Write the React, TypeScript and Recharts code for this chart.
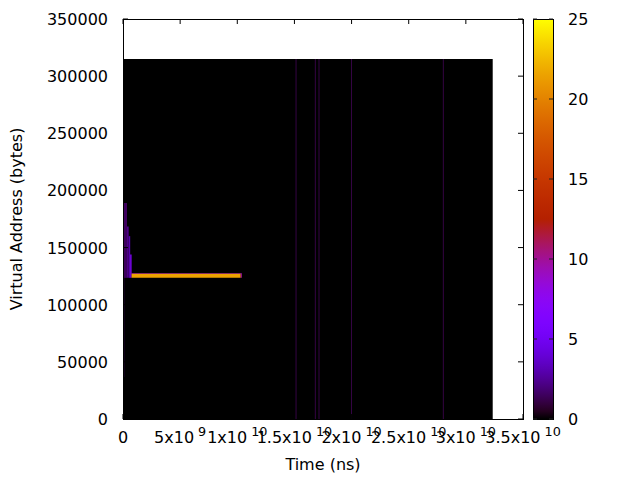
import React from 'react';
import { ComposedChart, XAxis, YAxis, ReferenceArea, Line } from 'recharts';

// axis ticks
const timeTicks = [0, 5e9, 1e10, 1.5e10, 2e10, 2.5e10, 3e10, 3.5e10];
const timeMantissa = ['0', '5', '1', '1.5', '2', '2.5', '3', '3.5'];
const timeExponent = ['', '9', '10', '10', '10', '10', '10', '10'];
const addressTicks = [0, 50000, 100000, 150000, 200000, 250000, 300000, 350000];
const countTicks = [0, 5, 10, 15, 20, 25];

// extent of the sampled map (black = 0 accesses)
const mapTimeEnd = 3.235e10;
const mapAddressTop = 315000;

// non-zero cells of the access map
const cellTimeStart = [5e7, 8e7, 3.5e8, 5.0e8, 6.3e8, 7.5e8, 7.5e8, 1.03e10, 1.511e10, 1.679e10, 1.712e10, 1.997e10, 2.799e10];
const cellTimeEnd = [1.1e8, 3.5e8, 5.0e8, 6.3e8, 7.5e8, 1.03e10, 1.04e10, 1.04e10, 1.517e10, 1.685e10, 1.718e10, 2.003e10, 2.805e10];
const cellAddressLow = [36750, 123500, 123500, 123500, 123500, 123500, 127300, 123500, 0, 0, 0, 0, 0];
const cellAddressHigh = [123500, 189000, 168500, 160000, 144000, 127300, 127800, 127300, 315000, 315000, 315000, 315000, 315000];
const cellCount = [1.5, 1.5, 2.2, 3, 6.5, 21.5, 9, 10, 9, 9, 9, 9, 9];

const FONT = 'DejaVu Sans, sans-serif';
const MARGIN = { top: 19, right: 117, bottom: 0, left: 0 };
const PLOT_TOP = 19;
const PLOT_RIGHT = 523;
const TICK_LEN = 5;

// gnuplot default palette (rgbformulae 7,5,15)
const palette = (v: number) => {
  const t = Math.min(Math.max(v / 25, 0), 1);
  const r = Math.sqrt(t);
  const g = t * t * t;
  const b = Math.max(0, Math.sin(2 * Math.PI * t));
  const h = (c: number) => Math.round(c * 255).toString(16).padStart(2, '0');
  return `#${h(r)}${h(g)}${h(b)}`;
};

const gradStops = Array.from({ length: 51 }, (_, i) => i / 50);

const frame = [
  { t: 0, a: 0 },
  { t: 3.5e10, a: 350000 },
];
const barFrame = [
  { x: 0, c: 0 },
  { x: 1, c: 25 },
];

const TimeTick = (props: any) => {
  const { x, y, payload } = props;
  const i = timeTicks.indexOf(payload.value);
  const m = timeMantissa[i];
  const e = timeExponent[i];
  return (
    <g>
      <line x1={x} x2={x} y1={y} y2={y - TICK_LEN} stroke="#000" />
      <line x1={x} x2={x} y1={PLOT_TOP} y2={PLOT_TOP + TICK_LEN} stroke="#000" />
      <text x={x} y={y + 24} textAnchor="middle" fontSize={16} fontFamily={FONT} fill="#000">
        {e ? (
          <>
            {m}x10
            <tspan dx={4} dy={-7} fontSize={12.8}>{e}</tspan>
          </>
        ) : (
          m
        )}
      </text>
    </g>
  );
};

const AddressTick = (props: any) => {
  const { x, y, payload } = props;
  return (
    <g>
      <line x1={x} x2={x + TICK_LEN} y1={y} y2={y} stroke="#000" />
      <line x1={PLOT_RIGHT} x2={PLOT_RIGHT - TICK_LEN} y1={y} y2={y} stroke="#000" />
      <text x={x - 15} y={y} dy={6} textAnchor="end" fontSize={16} fontFamily={FONT} fill="#000">
        {payload.value}
      </text>
    </g>
  );
};

const CountTick = (props: any) => {
  const { x, y, payload } = props;
  return (
    <g>
      <line x1={x - 20} x2={x - 16} y1={y} y2={y} stroke="#222" />
      <line x1={x - 4} x2={x} y1={y} y2={y} stroke="#222" />
      <text x={x + 15} y={y} dy={6} textAnchor="start" fontSize={16} fontFamily={FONT} fill="#000">
        {payload.value}
      </text>
    </g>
  );
};

const YTitle = (props: any) => {
  const vb = props.viewBox || { x: 0, y: 19, width: 123, height: 400 };
  const cx = vb.x + 16;
  const cy = vb.y + vb.height / 2;
  return (
    <text
      transform={`translate(${cx},${cy}) rotate(-90)`}
      textAnchor="middle"
      dominantBaseline="central"
      fontSize={16}
      fontFamily={FONT}
      fill="#000"
    >
      Virtual Address (bytes)
    </text>
  );
};

const XTitle = (props: any) => {
  const vb = props.viewBox || { x: 123, y: 419, width: 400, height: 61 };
  return (
    <text x={vb.x + vb.width / 2} y={vb.y + 51} textAnchor="middle" fontSize={16} fontFamily={FONT} fill="#000">
      Time (ns)
    </text>
  );
};

const App: React.FC = () => {
  return (
    <div style={{ position: 'absolute', left: 0, top: 0, width: 640, height: 480, background: '#fff' }}>
      <div style={{ position: 'absolute', left: 0, top: 0 }}>
        <ComposedChart width={640} height={480} data={frame} margin={MARGIN}>
          <ReferenceArea x1={0} x2={mapTimeEnd} y1={0} y2={mapAddressTop} fill="#000" fillOpacity={1} stroke="none" />
          {cellCount.map((c, i) => (
            <ReferenceArea
              key={i}
              x1={cellTimeStart[i]}
              x2={cellTimeEnd[i]}
              y1={cellAddressLow[i]}
              y2={cellAddressHigh[i]}
              fill={palette(c)}
              fillOpacity={i > 7 ? 0.5 : 1}
              stroke="none"
            />
          ))}
          <Line dataKey="a" stroke="none" dot={false} activeDot={false} isAnimationActive={false} />
          <XAxis
            type="number"
            dataKey="t"
            domain={[0, 3.5e10]}
            ticks={timeTicks}
            interval={0}
            height={61}
            tickSize={0}
            tickMargin={0}
            tickLine={false}
            axisLine={false}
            tick={<TimeTick />}
            label={<XTitle />}
            allowDataOverflow
          />
          <YAxis
            type="number"
            domain={[0, 350000]}
            ticks={addressTicks}
            interval={0}
            width={123}
            tickSize={0}
            tickMargin={0}
            tickLine={false}
            axisLine={false}
            tick={<AddressTick />}
            label={<YTitle />}
            allowDataOverflow
          />
          <ReferenceArea
            x1={0}
            x2={3.5e10}
            y1={0}
            y2={350000}
            fill="none"
            stroke="#000"
            strokeWidth={1}
            shapeRendering="crispEdges"
          />
        </ComposedChart>
      </div>
      <div style={{ position: 'absolute', left: 0, top: 0, pointerEvents: 'none' }}>
        <ComposedChart width={640} height={480} data={barFrame} margin={{ top: 19, right: 0, bottom: 61, left: 533 }}>
          <defs>
            <linearGradient id="cbGrad" x1="0" y1="1" x2="0" y2="0">
              {gradStops.map((s) => (
                <stop key={s} offset={s} stopColor={palette(s * 25)} />
              ))}
            </linearGradient>
          </defs>
          <ReferenceArea
            x1={0}
            x2={1}
            y1={0}
            y2={25}
            fill="url(#cbGrad)"
            fillOpacity={1}
            stroke="#000"
            strokeWidth={1}
            shapeRendering="crispEdges"
          />
          <Line dataKey="c" stroke="none" dot={false} activeDot={false} isAnimationActive={false} />
          <XAxis type="number" dataKey="x" domain={[0, 1]} hide />
          <YAxis
            type="number"
            orientation="right"
            domain={[0, 25]}
            ticks={countTicks}
            interval={0}
            width={87}
            tickSize={0}
            tickMargin={0}
            tickLine={false}
            axisLine={false}
            tick={<CountTick />}
          />
        </ComposedChart>
      </div>
    </div>
  );
};

export default App;
